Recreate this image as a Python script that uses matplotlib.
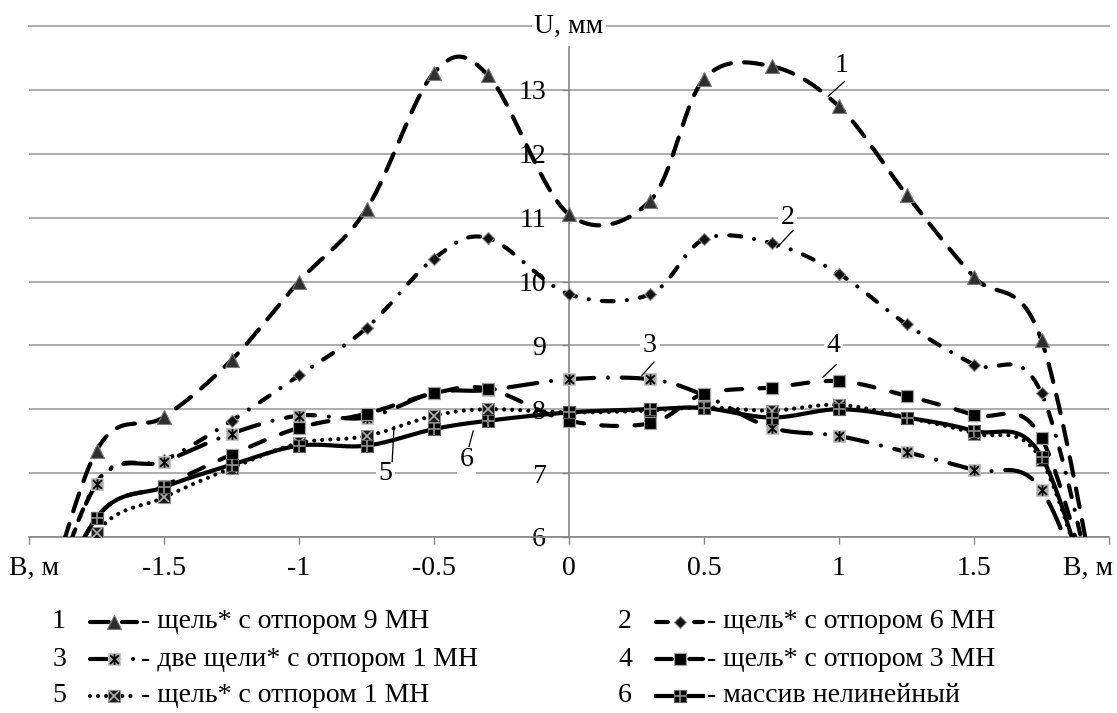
import numpy as np
import matplotlib
matplotlib.use("Agg")
import matplotlib.pyplot as plt
from matplotlib.path import Path

plt.rcParams['font.family'] = ['Liberation Serif', 'DejaVu Serif']
plt.rcParams['lines.scale_dashes'] = False

# ширина B, м and settlement U, мм for each case
b = [-2, -1.75, -1.5, -1.25, -1, -0.75, -0.5, -0.3, 0, 0.3, 0.5, 0.75, 1, 1.25, 1.5, 1.75, 2]
u1 = [4, 7.35, 7.88, 8.77, 10.0, 11.13, 13.27, 13.23, 11.05, 11.26, 13.17, 13.37, 12.74, 11.36, 10.07, 9.08, 4]
u2 = [4, 6.85, 7.2, 7.82, 8.53, 9.27, 10.36, 10.68, 9.8, 9.8, 10.66, 10.6, 10.12, 9.33, 8.7, 8.25, 4]
u3 = [4, 6.83, 7.18, 7.62, 7.9, 7.87, 8.26, 8.3, 8.47, 8.47, 8.22, 7.71, 7.58, 7.33, 7.05, 6.74, 4]
u4 = [4, 6.3, 6.8, 7.29, 7.71, 7.93, 8.25, 8.32, 7.82, 7.78, 8.24, 8.34, 8.44, 8.21, 7.91, 7.55, 4]
u5 = [4, 6.07, 6.62, 7.08, 7.47, 7.58, 7.9, 8.0, 7.95, 7.98, 8.03, 7.98, 8.07, 7.87, 7.62, 7.2, 4]
u6 = [4, 6.3, 6.78, 7.13, 7.43, 7.43, 7.69, 7.82, 7.95, 8.0, 8.02, 7.87, 8.0, 7.87, 7.66, 7.26, 4]

names = ["щель* с отпором 9 МН", "щель* с отпором 6 МН", "две щели* с отпором 1 МН",
         "щель* с отпором 3 МН", "щель* с отпором 1 МН", "массив нелинейный"]
xticks = [-2, -1.5, -1, -0.5, 0, 0.5, 1, 1.5, 2]
xlabels = ["", "-1.5", "-1", "-0.5", "0", "0.5", "1", "1.5", ""]
yticks = [6, 7, 8, 9, 10, 11, 12, 13]

FS = 20
GRID = '#a6a6a6'
AX = '#868686'
LW = 3.0


def smooth(x, y, n=30):
    # bezier smoothing like the spreadsheet "smoothed line"
    p = np.column_stack([x, y]).astype(float)
    out = []
    t = np.linspace(0, 1, n, endpoint=False)[:, None]
    for i in range(len(p) - 1):
        p0 = p[max(i - 1, 0)]
        p1 = p[i]
        p2 = p[i + 1]
        p3 = p[min(i + 2, len(p) - 1)]
        c1 = p1 + (p2 - p0) / 6
        c2 = p2 - (p3 - p1) / 6
        out.append((1 - t)**3 * p1 + 3 * (1 - t)**2 * t * c1 + 3 * (1 - t) * t**2 * c2 + t**3 * p2)
    out.append(p[-1:])
    out = np.vstack(out)
    return out[:, 0], out[:, 1]


star = Path([(-1, -1), (1, 1), (-1, 1), (1, -1), (0, -1.2), (0, 1.2)],
            [Path.MOVETO, Path.LINETO, Path.MOVETO, Path.LINETO, Path.MOVETO, Path.LINETO])

line_styles = [
    dict(ls=(0, (13.5, 9.5))),
    dict(ls=(0, (8.5, 9.5, 0.01, 9.5))),
    dict(ls=(0, (21, 10, 0.01, 10))),
    dict(ls=(0, (11.5, 12.5))),
    dict(ls=(0, (0.01, 5.8))),
    dict(ls='-'),
]
# base marker + optional overlay glyph
marker_styles = [
    [dict(marker='^', ms=10, mfc='#2e2e2e', mec='#7a7a7a', mew=0.8)],
    [dict(marker='D', ms=6.5, mfc='#111111', mec='#8a8a8a', mew=0.8)],
    [dict(marker='s', ms=9, mfc='#a8a8a8', mec='#c8c8c8', mew=0.8),
     dict(marker=star, ms=7.5, mfc='none', mec='black', mew=1.3)],
    [dict(marker='s', ms=9, mfc='black', mec='#a0a0a0', mew=0.9)],
    [dict(marker='s', ms=9, mfc='#1a1a1a', mec='#909090', mew=0.8),
     dict(marker='x', ms=7.5, mfc='none', mec='#b0b0b0', mew=1.2)],
    [dict(marker='s', ms=9, mfc='black', mec='#606060', mew=0.8),
     dict(marker='+', ms=8.5, mfc='none', mec='#8a8a8a', mew=1.3)],
]

fig = plt.figure(figsize=(11.17, 7.13), dpi=100)
ax = fig.add_axes([29 / 1117, 1 - 537 / 713, 1080 / 1117, 511 / 713])
ax.set_xlim(-2, 2)
ax.set_ylim(6, 14)
ax.set_axisbelow(True)

for s in ['top', 'right']:
    ax.spines[s].set_visible(False)
ax.spines['bottom'].set_color(AX)
ax.spines['bottom'].set_linewidth(1.2)
ax.spines['left'].set_position(('data', 0))
ax.spines['left'].set_color(AX)
ax.spines['left'].set_linewidth(1.2)
ax.spines['left'].set_bounds(6, 13.67)

ax.set_yticks(yticks)
ax.set_yticklabels([str(v) for v in yticks])
ax.set_xticks(xticks)
ax.set_xticklabels(xlabels)
ax.tick_params(axis='y', length=5, width=1, color=AX, pad=11.5, labelsize=FS)
ax.tick_params(axis='x', length=5, width=1, color=AX, pad=9, labelsize=FS)
ax.grid(axis='y', color=GRID, lw=1.3)
ax.axhline(14, color=GRID, lw=1.3, zorder=0.5, clip_on=False)

series = [u1, u2, u3, u4, u5, u6]
for k, u in enumerate(series):
    xs, ys = smooth(b, u)
    ax.plot(xs, ys, color='black', lw=LW, dash_capstyle='round', zorder=3 + k,
            **line_styles[k])
    for m in marker_styles[k]:
        ax.plot(b[1:-1], u[1:-1], ls='none', zorder=3 + k, **m)

# curve numbers with leader lines
box = dict(facecolor='white', edgecolor='none', pad=2)
ax.text(0, 14, "U, мм", fontsize=FS, ha='center', va='center', bbox=box, zorder=1)
num_labels = [("1", 1.01, 13.38, (0.96, 1.02), (12.9, 13.13)),
              ("2", 0.81, 11.0, (0.77, 0.83), (10.53, 10.8)),
              ("3", 0.30, 9.0, (0.27, 0.315), (8.53, 8.74)),
              ("4", 0.98, 9.0, (0.94, 0.99), (8.5, 8.7)),
              ("5", -0.68, 7.0, (-0.655, -0.648), (7.18, 7.73)),
              ("6", -0.38, 7.22, (-0.37, -0.355), (7.42, 7.66))]
for txt, tx, ty, lx, ly in num_labels:
    ax.text(tx, ty, txt, fontsize=FS, ha='center', va='center', bbox=box, zorder=1)
    ax.plot(lx, ly, color='black', lw=0.9, zorder=10)

# legend drawn in pixel coordinates
lax = fig.add_axes([0, 0, 1, 1])
lax.set_xlim(0, 1117)
lax.set_ylim(713, 0)
lax.axis('off')
lax.text(34, 568, "В, м", fontsize=FS, ha='center', va='center')
lax.text(1113, 568, "В, м", fontsize=FS, ha='right', va='center')

rows = [622, 659, 696]
cols = [0, 566]
for k in range(6):
    dx = cols[k % 2]
    y = rows[k // 2]
    lax.text(59 + dx, y, str(k + 1), fontsize=FS, ha='center', va='center')
    lax.plot([90 + dx, 137 + dx], [y, y], color='black', lw=LW,
             dash_capstyle='round', **line_styles[k])
    for m in marker_styles[k]:
        lax.plot([114 + dx], [y], ls='none', **m)
    lax.text(141 + dx, y, "- " + names[k], fontsize=FS, ha='left', va='center')

fig.savefig("out.png", dpi=100)
